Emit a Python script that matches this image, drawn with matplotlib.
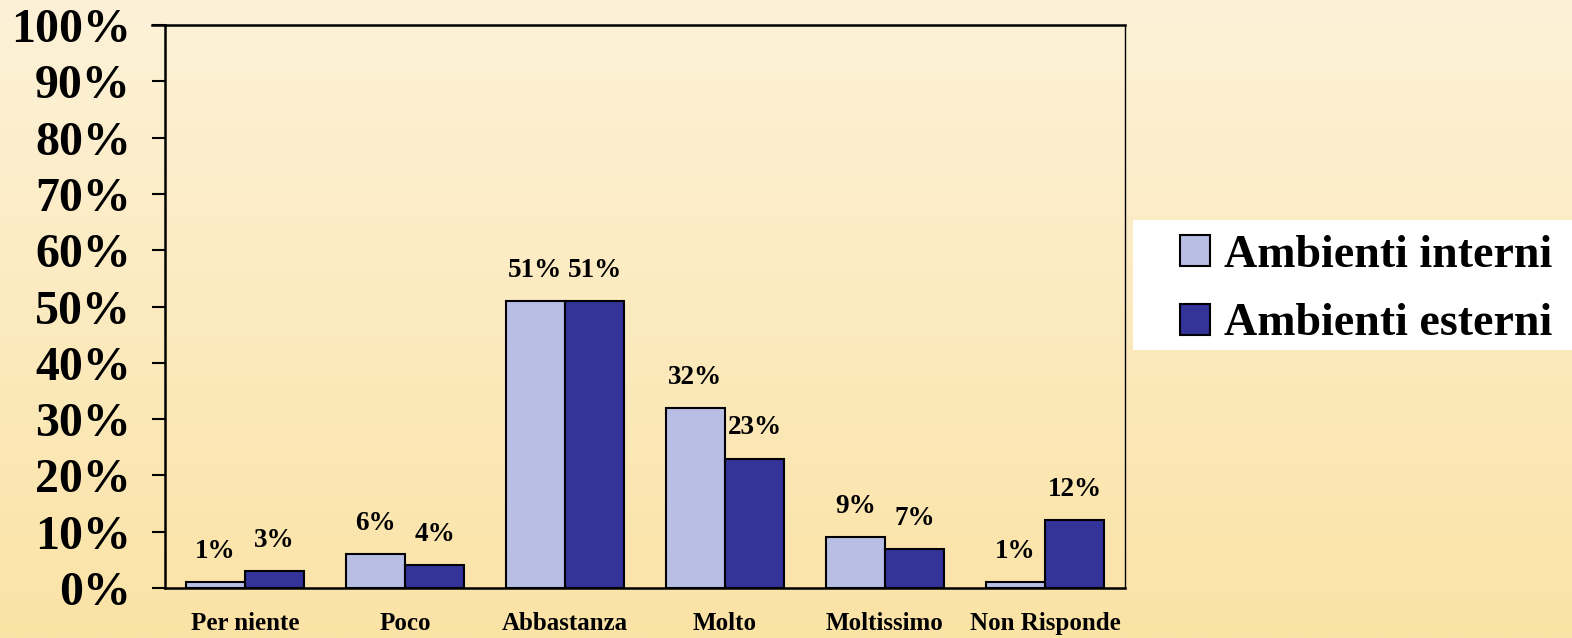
import numpy as np
import matplotlib
matplotlib.use("Agg")
import matplotlib.pyplot as plt
from matplotlib.patches import Rectangle, Patch
from matplotlib.colors import LinearSegmentedColormap

categories = ["Per niente", "Poco", "Abbastanza", "Molto", "Moltissimo", "Non Risponde"]
interni = [1, 6, 51, 32, 9, 1]
esterni = [3, 4, 51, 23, 7, 12]
series_names = ["Ambienti interni", "Ambienti esterni"]
yticks = [0, 10, 20, 30, 40, 50, 60, 70, 80, 90, 100]

c_light = "#B8BEE4"
c_dark = "#333399"

plt.rcParams['font.family'] = ['Liberation Serif', 'DejaVu Serif']
plt.rcParams['font.weight'] = 'bold'

W, H = 1572, 638
fig = plt.figure(figsize=(W / 100, H / 100), dpi=100)

# gradient background
bg = fig.add_axes([0, 0, 1, 1], zorder=-10)
cmap = LinearSegmentedColormap.from_list("bg", ["#FDF2D8", "#FBE3A6"])
grad = np.linspace(0, 1, 256).reshape(-1, 1)
bg.imshow(grad, aspect="auto", cmap=cmap, extent=[0, 1, 0, 1], origin="upper")
bg.axis("off")

ax = fig.add_axes([165 / W, 1 - 588 / H, 960 / W, 563 / H])
ax.patch.set_alpha(0)

x = np.arange(len(categories))
w = 0.37
b1 = ax.bar(x - w / 2, interni, w, color=c_light, edgecolor="black", linewidth=1.5)
b2 = ax.bar(x + w / 2, esterni, w, color=c_dark, edgecolor="black", linewidth=1.5)

for bars, vals in ((b1, interni), (b2, esterni)):
    for r, v in zip(bars, vals):
        ax.annotate(f"{v}%", (r.get_x() + r.get_width() / 2, v), xytext=(0, 13),
                    textcoords="offset points", ha="center", va="bottom",
                    fontsize=19.5, fontweight="bold")

ax.set_xlim(-0.5, len(categories) - 0.5)
ax.set_ylim(0, 100)
ax.set_yticks(yticks)
ax.set_yticklabels([f"{t}%" for t in yticks], fontsize=34.5, fontweight="bold")
ax.set_xticks(x)
ax.set_xticklabels(categories, fontsize=18, fontweight="bold")
ax.tick_params(axis="y", length=9.5, width=1.5, pad=15, direction="out")
ax.tick_params(axis="x", length=0, pad=17)
for s in ("left", "bottom", "top"):
    ax.spines[s].set_linewidth(1.8)
ax.spines["right"].set_linewidth(1.0)
# extend top line to the left like a tick
ax.plot([-0.014, 0], [1, 1], transform=ax.transAxes, color="black", lw=1.8, clip_on=False)

# legend box
fig.patches.append(Rectangle((1133 / W, 1 - 350 / H), 1 - 1133 / W, 130 / H,
                             transform=fig.transFigure, facecolor="white",
                             edgecolor="none", zorder=1))
handles = [Patch(facecolor=c_light, edgecolor="black", linewidth=1.5),
           Patch(facecolor=c_dark, edgecolor="black", linewidth=1.5)]
leg = fig.legend(handles, series_names, loc="center left",
                 bbox_to_anchor=(1180 / W, 1 - 290 / H), frameon=False,
                 borderpad=0, borderaxespad=0,
                 prop={"size": 33, "weight": "bold"}, handlelength=0.66,
                 handleheight=0.66, handletextpad=0.3, labelspacing=0.58)
leg.set_zorder(2)

fig.savefig("out.png", dpi=100)
